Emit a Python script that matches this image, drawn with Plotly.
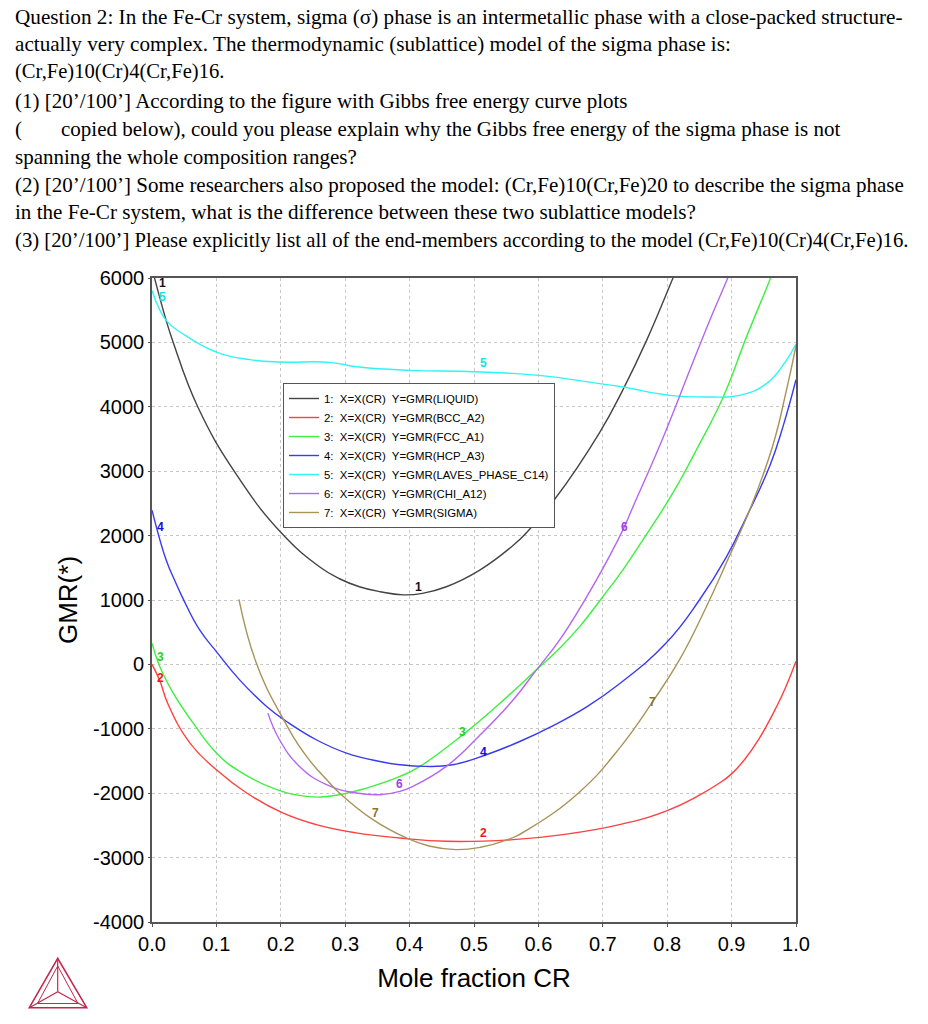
import plotly.graph_objects as go

# ---------------- data ----------------
liq_x = [0.0, 0.022, 0.033, 0.071, 0.131, 0.201, 0.260, 0.291, 0.322, 0.354, 0.390, 0.420, 0.457, 0.509, 0.561, 0.581, 0.625, 0.695, 0.731, 0.768, 0.809, 0.820]
liq_y = [6150, 5341, 5000, 4000, 2950, 2040, 1516, 1330, 1206, 1129, 1080, 1103, 1206, 1465, 1850, 2040, 2560, 3600, 4260, 5031, 6000, 6260]

bcc_x = [0.0, 0.012, 0.025, 0.059, 0.100, 0.147, 0.203, 0.255, 0.317, 0.385, 0.457, 0.561, 0.638, 0.726, 0.800, 0.850, 0.880, 0.900, 0.920, 0.943, 0.970, 0.985, 1.0]
bcc_y = [0, -250, -620, -1222, -1636, -1997, -2307, -2488, -2617, -2695, -2747, -2721, -2643, -2488, -2270, -2030, -1850, -1700, -1480, -1150, -654, -330, 50]

fcc_x = [0.0, 0.012, 0.033, 0.064, 0.100, 0.136, 0.188, 0.240, 0.281, 0.333, 0.385, 0.416, 0.483, 0.535, 0.597, 0.633, 0.664, 0.700, 0.731, 0.762, 0.799, 0.819, 0.845, 0.887, 0.923, 0.959, 0.970]
fcc_y = [330, -34, -447, -912, -1377, -1662, -1920, -2050, -2039, -1920, -1740, -1584, -1090, -650, -85, 251, 586, 1051, 1465, 1930, 2499, 2840, 3326, 4152, 5082, 5961, 6250]

hcp_x = [0.0, 0.022, 0.035, 0.048, 0.074, 0.100, 0.136, 0.178, 0.209, 0.255, 0.302, 0.354, 0.385, 0.424, 0.467, 0.519, 0.571, 0.623, 0.675, 0.726, 0.799, 0.850, 0.892, 0.925, 0.960, 0.980, 1.0]
hcp_y = [2395, 1620, 1310, 1026, 535, 198, -240, -654, -887, -1170, -1377, -1507, -1558, -1584, -1558, -1403, -1197, -950, -660, -300, 340, 1000, 1671, 2330, 3100, 3700, 4420]

lav_x = [0.0, 0.022, 0.048, 0.100, 0.152, 0.201, 0.276, 0.322, 0.400, 0.500, 0.600, 0.695, 0.731, 0.804, 0.866, 0.912, 0.954, 0.985, 1.0]
lav_y = [5806, 5341, 5134, 4850, 4732, 4695, 4690, 4617, 4566, 4545, 4488, 4360, 4307, 4178, 4152, 4178, 4360, 4721, 4980]

chi_x = [0.180, 0.198, 0.229, 0.271, 0.317, 0.354, 0.385, 0.405, 0.457, 0.509, 0.561, 0.597, 0.633, 0.690, 0.731, 0.747, 0.794, 0.835, 0.866, 0.894, 0.910]
chi_y = [-757, -1170, -1584, -1868, -1997, -2023, -1972, -1894, -1584, -1100, -550, -85, 380, 1310, 2085, 2450, 3532, 4566, 5341, 6000, 6400]

sig_x = [0.135, 0.162, 0.203, 0.240, 0.276, 0.291, 0.343, 0.395, 0.430, 0.472, 0.510, 0.550, 0.586, 0.664, 0.726, 0.778, 0.819, 0.861, 0.892, 0.931, 0.964, 0.985, 1.0]
sig_y = [1011, 21, -834, -1429, -1842, -1997, -2411, -2695, -2820, -2876, -2840, -2730, -2550, -1980, -1300, -570, 70, 900, 1580, 2470, 3400, 4250, 4950]

series_names = ["1:  X=X(CR)  Y=GMR(LIQUID)", "2:  X=X(CR)  Y=GMR(BCC_A2)", "3:  X=X(CR)  Y=GMR(FCC_A1)",
                "4:  X=X(CR)  Y=GMR(HCP_A3)", "5:  X=X(CR)  Y=GMR(LAVES_PHASE_C14)", "6:  X=X(CR)  Y=GMR(CHI_A12)",
                "7:  X=X(CR)  Y=GMR(SIGMA)"]
series_x = [liq_x, bcc_x, fcc_x, hcp_x, lav_x, chi_x, sig_x]
series_y = [liq_y, bcc_y, fcc_y, hcp_y, lav_y, chi_y, sig_y]
line_colors = ["#444444", "#ff4040", "#3ef03e", "#3a3aee", "#30f4f4", "#b366f2", "#a89358"]
label_colors = ["#111111", "#f01818", "#22d022", "#1010e0", "#10e4e4", "#a040e6", "#8a7430"]

# curve number labels: (series index, x, y)
lab_idx = [0, 0, 4, 4, 3, 3, 2, 2, 1, 1, 5, 5, 6, 6]
lab_x = [0.017, 0.414, 0.017, 0.515, 0.013, 0.515, 0.013, 0.482, 0.013, 0.515, 0.385, 0.734, 0.347, 0.777]
lab_y = [5915, 1202, 5698, 4674, 2132, -1357, 116, -1047, -209, -2612, -1853, 2132, -2302, -581]

x_ticks = [0.0, 0.1, 0.2, 0.3, 0.4, 0.5, 0.6, 0.7, 0.8, 0.9, 1.0]
y_ticks = [-4000, -3000, -2000, -1000, 0, 1000, 2000, 3000, 4000, 5000, 6000]

question_lines = [
    "Question 2: In the Fe-Cr system, sigma (σ) phase is an intermetallic phase with a close-packed structure-",
    "actually very complex. The thermodynamic (sublattice) model of the sigma phase is:",
    "(Cr,Fe)10(Cr)4(Cr,Fe)16.",
    "(1) [20’/100’] According to the figure with Gibbs free energy curve plots",
    "(",
    "copied below), could you please explain why the Gibbs free energy of the sigma phase is not",
    "spanning the whole composition ranges?",
    "(2) [20’/100’] Some researchers also proposed the model: (Cr,Fe)10(Cr,Fe)20 to describe the sigma phase",
    "in the Fe-Cr system, what is the difference between these two sublattice models?",
    "(3) [20’/100’] Please explicitly list all of the end-members according to the model (Cr,Fe)10(Cr)4(Cr,Fe)16.",
]
question_px_x = [14, 14, 14, 14, 14, 60, 14, 14, 14, 14]
question_px_y = [17, 44, 71, 101, 129, 129, 157, 185, 212, 240]
question_size = [21.2, 21.15, 20.6, 21, 21, 21, 21, 21, 21.1, 20.7]

# ---------------- layout helpers (page pixel -> paper) ----------------
OFF = 0  # body margin is removed by the post script below
W, H = 928, 1024
L, T = 152, 278
PW, PH = 644, 644
R, B = W - L - PW, H - T - PH


def pxx(x):
    return (x - OFF - L) / PW


def pxy(y):
    return (H - B - (y - OFF)) / PH


fig = go.Figure()
for name, xs, ys, col in zip(series_names, series_x, series_y, line_colors):
    fig.add_trace(go.Scatter(x=xs, y=ys, mode="lines", name=name,
                             line=dict(color=col, width=1.4, shape="spline", smoothing=1.3)))

annotations = []
for i, x, y in zip(lab_idx, lab_x, lab_y):
    annotations.append(dict(x=x, y=y, xref="x", yref="y", text="<b>%d</b>" % (i + 1), showarrow=False,
                            font=dict(family="Liberation Sans", size=12, color=label_colors[i])))

for t, x, y, s in zip(question_lines, question_px_x, question_px_y, question_size):
    annotations.append(dict(x=pxx(x), y=pxy(y), xref="paper", yref="paper", text=t, showarrow=False,
                            xanchor="left", yanchor="middle", borderpad=0,
                            font=dict(family="Liberation Serif", size=s, color="black")))

# Thermo-Calc style logo (decoration)
logo_col = "#c0284e"
A, BL, BR, C = (57.7, 958.3), (29.3, 1007.7), (86.7, 1007.7), (57.7, 991.7)
IA, IBL, IBR = (57.7, 966.0), (37.5, 1003.5), (78.0, 1003.5)


def path(pts, close=True):
    s = "M " + " L ".join("%f,%f" % (pxx(p[0]), pxy(p[1])) for p in pts)
    return s + (" Z" if close else "")


shapes = [
    dict(type="path", xref="paper", yref="paper", path=path([A, BL, BR]), line=dict(color=logo_col, width=1.6)),
    dict(type="path", xref="paper", yref="paper", path=path([IA, IBL, IBR]), line=dict(color=logo_col, width=1)),
    dict(type="path", xref="paper", yref="paper", path=path([A, C], False), line=dict(color=logo_col, width=1.2)),
    dict(type="path", xref="paper", yref="paper", path=path([BL, C], False), line=dict(color=logo_col, width=1.2)),
    dict(type="path", xref="paper", yref="paper", path=path([BR, C], False), line=dict(color=logo_col, width=1.2)),
]

axis_font = dict(family="Liberation Sans", size=20, color="black")
fig.update_layout(
    width=W, height=H,
    margin=dict(l=L, r=R, t=T, b=B, autoexpand=False),
    paper_bgcolor="white", plot_bgcolor="white",
    showlegend=True,
    legend=dict(x=pxx(283), y=pxy(383), xanchor="left", yanchor="top",
                bgcolor="white", bordercolor="#555555", borderwidth=1,
                font=dict(family="Liberation Sans", size=11.4, color="black"),
                itemwidth=30, tracegroupgap=0),
    annotations=annotations,
    shapes=shapes,
    xaxis=dict(range=[0, 1], tickvals=x_ticks, ticktext=["%.1f" % v for v in x_ticks],
               showgrid=True, gridcolor="#c8c8c8", griddash="dot", gridwidth=1,
               zeroline=False, showline=True, linecolor="#555555", linewidth=1.6, mirror=True,
               ticks="outside", ticklen=3, tickcolor="#555555", tickfont=axis_font,
               title=dict(text="Mole fraction CR", font=dict(family="Liberation Sans", size=26, color="black"), standoff=15)),
    yaxis=dict(range=[-4000, 6000], tickvals=y_ticks, ticktext=[str(v) for v in y_ticks],
               showgrid=True, gridcolor="#c8c8c8", griddash="dot", gridwidth=1,
               zeroline=False, showline=True, linecolor="#555555", linewidth=1.6, mirror=True,
               ticks="outside", ticklen=2, tickcolor="#555555", tickfont=axis_font, ticklabelstandoff=0,
               title=dict(text="GMR(*)", font=dict(family="Liberation Sans", size=26, color="black"), standoff=8)),
)

fig.write_html("out.html", config={"displayModeBar": False},
               post_script="document.body.style.margin='0';document.body.style.overflow='hidden';")
